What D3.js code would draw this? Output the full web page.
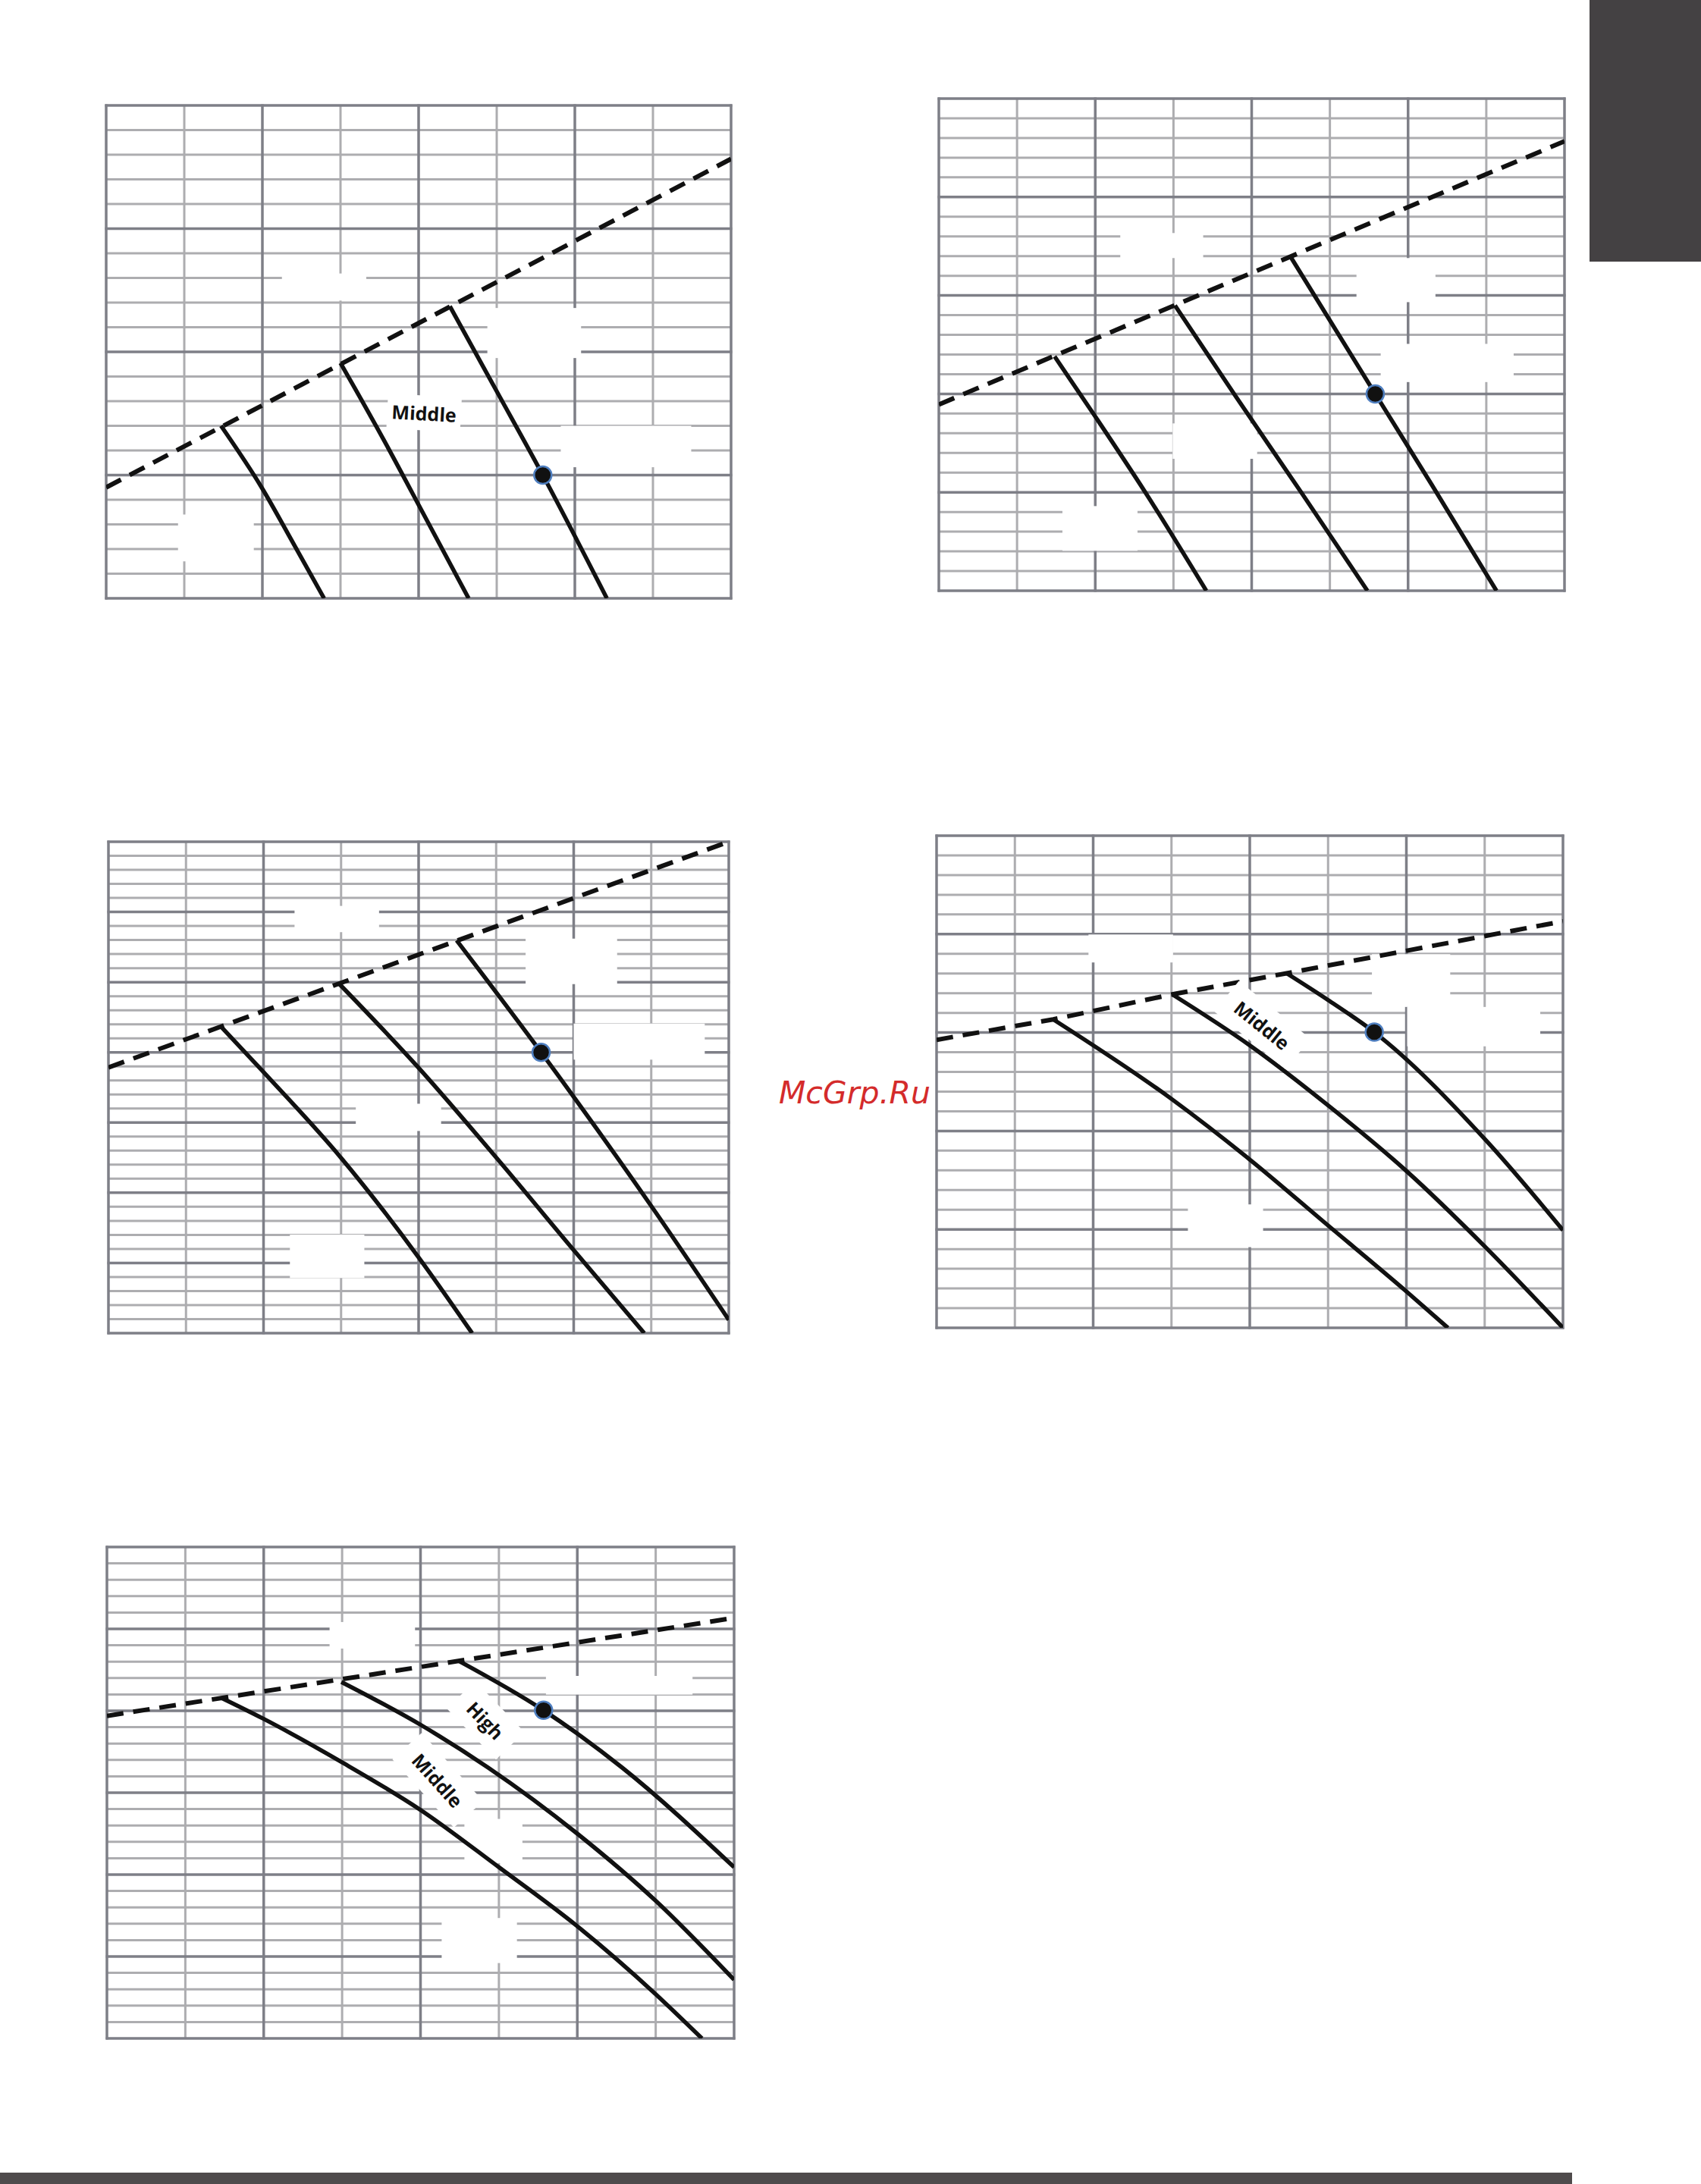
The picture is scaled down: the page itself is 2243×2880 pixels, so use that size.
<!DOCTYPE html>
<html>
<head>
<meta charset="utf-8">
<script src="https://cdn.jsdelivr.net/npm/d3@7"></script>
<style>
  body { margin: 0; background: #fff; }
</style>
</head>
<body>
<div id="res"></div>
<script>
/* grid size of each panel: 8 columns, n rows */
var panelCols = 8;
var panelRows = [20, 25, 35, 25, 30];

/* panel 1 - values in grid units, y counted from the bottom */
var limit1 = [[0, 4.5], [8, 17.83]];
var curves1 = [
	[[1.47, 7.0], [1.99, 4.5], [2.41, 2.15], [2.79, 0]],
	[[3.0, 9.55], [3.55, 6.45], [4.1, 3.2], [4.64, 0]],
	[[4.40, 11.85], [5.0, 8.4], [5.59, 5.0], [6.41, 0]]
];
var dot1 = [5.59, 5.0];
var labels1 = [{text: "Middle", x: 4.07, y: 7.52, angle: 3}];
var blanks1 = [[2.25, 3.33, 12.08, 13.18], [4.88, 6.08, 9.75, 11.78], [5.82, 7.49, 5.32, 7.0], [0.92, 1.89, 1.5, 3.4]];

/* panel 2 */
var limit2 = [[0, 9.46], [8, 22.83]];
var curves2 = [
	[[1.48, 11.9], [2.0, 8.85], [2.64, 5.0], [3.42, 0]],
	[[3.02, 14.49], [3.8, 9.85], [4.65, 4.9], [5.48, 0]],
	[[4.50, 16.95], [5.58, 10.0], [6.3, 5.4], [7.13, 0]]
];
var dot2 = [5.58, 10.0];
var labels2 = [];
var blanks2 = [[2.32, 3.38, 16.9, 18.17], [5.34, 6.35, 14.66, 16.9], [5.65, 7.35, 10.6, 12.54], [2.99, 4.07, 6.7, 8.5], [1.58, 2.54, 2.03, 4.3]];

/* panel 3 */
var limit3 = [[0, 18.92], [8, 35]];
var curves3 = [
	[[1.45, 21.84], [1.99, 18.65], [2.99, 12.55], [4.0, 5.4], [4.69, 0]],
	[[2.98, 24.86], [4.0, 18.9], [5.01, 12.45], [6.01, 5.85], [6.91, 0]],
	[[4.49, 27.98], [5.58, 20.0], [7.02, 8.9], [8.0, 0.95]]
];
var dot3 = [5.58, 20.0];
var labels3 = [];
var blanks3 = [[2.4, 3.49, 28.56, 30.43], [5.38, 6.56, 24.86, 28.1], [6.0, 7.69, 19.48, 22.05], [3.19, 4.29, 14.4, 16.34], [2.34, 3.3, 3.93, 7.02]];

/* panel 4 */
var limit4 = [[0, 14.63], [1.49, 15.67], [3.01, 16.94], [4.47, 18.01], [8, 20.65]];
var curves4 = [
	[[1.49, 15.67], [3.01, 11.6], [4.0, 8.55], [5.0, 5.2], [6.0, 1.85], [6.53, 0]],
	[[3.01, 16.94], [4.0, 14.35], [5.0, 11.3], [6.0, 7.97], [7.02, 4.06], [8.0, 0]],
	[[4.47, 18.01], [5.0, 16.65], [5.59, 15.02], [7.02, 9.51], [8.0, 4.96]]
];
var dot4 = [5.59, 15.02];
var labels4 = [{text: "Middle", x: 4.16, y: 15.38, angle: 39}];
var blanks4 = [[1.94, 3.02, 18.56, 19.98], [5.56, 6.56, 16.3, 18.98], [6.01, 7.71, 14.3, 16.3], [3.21, 4.17, 4.1, 6.27]];

/* panel 5 */
var limit5 = [[0, 19.69], [8, 25.67]];
var curves5 = [
	[[1.46, 20.79], [1.99, 19.53], [2.99, 16.88], [4.0, 13.95], [5.0, 10.45], [6.0, 6.85], [7.0, 2.7], [7.59, 0]],
	[[2.99, 21.76], [4.01, 19.12], [4.86, 16.54], [6.0, 12.5], [7.0, 8.4], [8.0, 3.58]],
	[[4.49, 23.04], [5.57, 20.03], [6.57, 16.54], [8.0, 10.45]]
];
var dot5 = [5.57, 20.03];
var labels5 = [{text: "High", x: 4.83, y: 19.42, angle: 46}, {text: "Middle", x: 4.22, y: 15.76, angle: 48}];
var blanks5 = [[2.84, 3.93, 23.8, 25.42], [5.6, 7.47, 20.99, 22.13], [4.56, 5.3, 10.7, 13.4], [4.27, 5.23, 4.6, 7.35]];

/* page size and panel frames (pixels) */
var width = 2243;
var height = 2880;
var frames = [
	{x: 140, y: 139, w: 824, h: 650},
	{x: 1238, y: 130, w: 825, h: 649},
	{x: 143, y: 1110, w: 818, h: 648},
	{x: 1235, y: 1102, w: 826, h: 649},
	{x: 141, y: 2040, w: 827, h: 648}
];

var minorColor = "#adadb0";
var majorColor = "#7e7f87";

var svg = d3.select("#res")
	.append("svg")
		.attr("width", width)
		.attr("height", height)
		.style("display", "block");

/* dark page tab top right and bottom bar */
svg.append("rect")
	.attr("x", 2096).attr("y", 0)
	.attr("width", width - 2096).attr("height", 345)
	.style("fill", "#444143");
svg.append("rect")
	.attr("x", 0).attr("y", 2865)
	.attr("width", 2073).attr("height", 15)
	.style("fill", "#4f4b4c");

function drawPanel(i, limit, curves, dot, labels, blanks) {
	var f = frames[i];
	var rows = panelRows[i];

	var x = d3.scaleLinear().domain([0, panelCols]).range([f.x, f.x + f.w]);
	var y = d3.scaleLinear().domain([0, rows]).range([f.y + f.h, f.y]);

	var g = svg.append("g");

	/* clip so the curves stop at the frame */
	svg.append("clipPath")
		.attr("id", "clip" + i)
		.append("rect")
			.attr("x", f.x).attr("y", f.y)
			.attr("width", f.w).attr("height", f.h);

	var vx = d3.range(0, panelCols + 1);
	var hy = d3.range(0, rows + 1);
	var isMajorV = function(d) { return d % 2 == 0; };
	var isMajorH = function(d) { return d % 5 == 0 || d == rows; };

	/* minor grid first, major grid on top */
	g.selectAll(".hminor").data(hy.filter(function(d) { return !isMajorH(d); }))
		.enter().append("line")
			.attr("x1", f.x).attr("x2", f.x + f.w)
			.attr("y1", function(d) { return y(d); })
			.attr("y2", function(d) { return y(d); })
			.style("stroke", minorColor).attr("stroke-width", 3);
	g.selectAll(".vminor").data(vx.filter(function(d) { return !isMajorV(d); }))
		.enter().append("line")
			.attr("x1", function(d) { return x(d); })
			.attr("x2", function(d) { return x(d); })
			.attr("y1", f.y).attr("y2", f.y + f.h)
			.style("stroke", minorColor).attr("stroke-width", 3);
	g.selectAll(".hmajor").data(hy.filter(isMajorH))
		.enter().append("line")
			.attr("x1", f.x - 1.5).attr("x2", f.x + f.w + 1.5)
			.attr("y1", function(d) { return y(d); })
			.attr("y2", function(d) { return y(d); })
			.style("stroke", majorColor).attr("stroke-width", 3.5);
	g.selectAll(".vmajor").data(vx.filter(isMajorV))
		.enter().append("line")
			.attr("x1", function(d) { return x(d); })
			.attr("x2", function(d) { return x(d); })
			.attr("y1", f.y - 1.5).attr("y2", f.y + f.h + 1.5)
			.style("stroke", majorColor).attr("stroke-width", 3.5);

	/* white patches where the old labels were */
	g.selectAll(".blank").data(blanks)
		.enter().append("rect")
			.attr("x", function(d) { return x(d[0]); })
			.attr("y", function(d) { return y(d[3]); })
			.attr("width", function(d) { return x(d[1]) - x(d[0]); })
			.attr("height", function(d) { return y(d[2]) - y(d[3]); })
			.style("fill", "#fff");

	var line = d3.line()
		.x(function(d) { return x(d[0]); })
		.y(function(d) { return y(d[1]); });
	var smooth = d3.line()
		.curve(d3.curveMonotoneX)
		.x(function(d) { return x(d[0]); })
		.y(function(d) { return y(d[1]); });

	var lines = svg.append("g").attr("clip-path", "url(#clip" + i + ")");

	lines.selectAll(".curve").data(curves)
		.enter().append("path")
			.attr("d", smooth)
			.style("fill", "none")
			.style("stroke", "#111")
			.attr("stroke-width", 5.5);

	lines.append("path")
		.attr("d", line(limit))
		.style("fill", "none")
		.style("stroke", "#111")
		.style("stroke-dasharray", "22, 13")
		.attr("stroke-width", 6);

	/* operating point */
	svg.append("circle")
		.attr("cx", x(dot[0]))
		.attr("cy", y(dot[1]))
		.attr("r", 11.5)
		.style("fill", "#111")
		.style("stroke", "#4f7fc0")
		.attr("stroke-width", 2.5);

	/* speed labels on white boxes */
	labels.forEach(function(l) {
		var lg = svg.append("g")
			.attr("transform", "translate(" + x(l.x) + "," + y(l.y) + ") rotate(" + l.angle + ")");
		var t = lg.append("text")
			.attr("text-anchor", "middle")
			.attr("dominant-baseline", "central")
			.style("font-family", "'Open Sans', sans-serif")
			.style("font-weight", 700)
			.style("font-size", "25px")
			.style("fill", "#111")
			.text(l.text);
		var b = t.node().getBBox();
		var padX = l.angle > 10 ? 18 : 6;
		var padY = l.angle > 10 ? 9 : 6;
		lg.insert("rect", "text")
			.attr("x", b.x - padX).attr("y", b.y - padY)
			.attr("width", b.width + 2 * padX).attr("height", b.height + 2 * padY)
			.style("fill", "#fff");
	});
}

drawPanel(0, limit1, curves1, dot1, labels1, blanks1);
drawPanel(1, limit2, curves2, dot2, labels2, blanks2);
drawPanel(2, limit3, curves3, dot3, labels3, blanks3);
drawPanel(3, limit4, curves4, dot4, labels4, blanks4);
drawPanel(4, limit5, curves5, dot5, labels5, blanks5);

/* watermark */
svg.append("text")
	.attr("x", 1027)
	.attr("y", 1455)
	.style("font-family", "'DejaVu Sans', sans-serif")
	.style("font-style", "oblique")
	.style("font-size", "41px")
	.style("fill", "#d42b2b")
	.text("McGrp.Ru");
</script>
</body>
</html>
